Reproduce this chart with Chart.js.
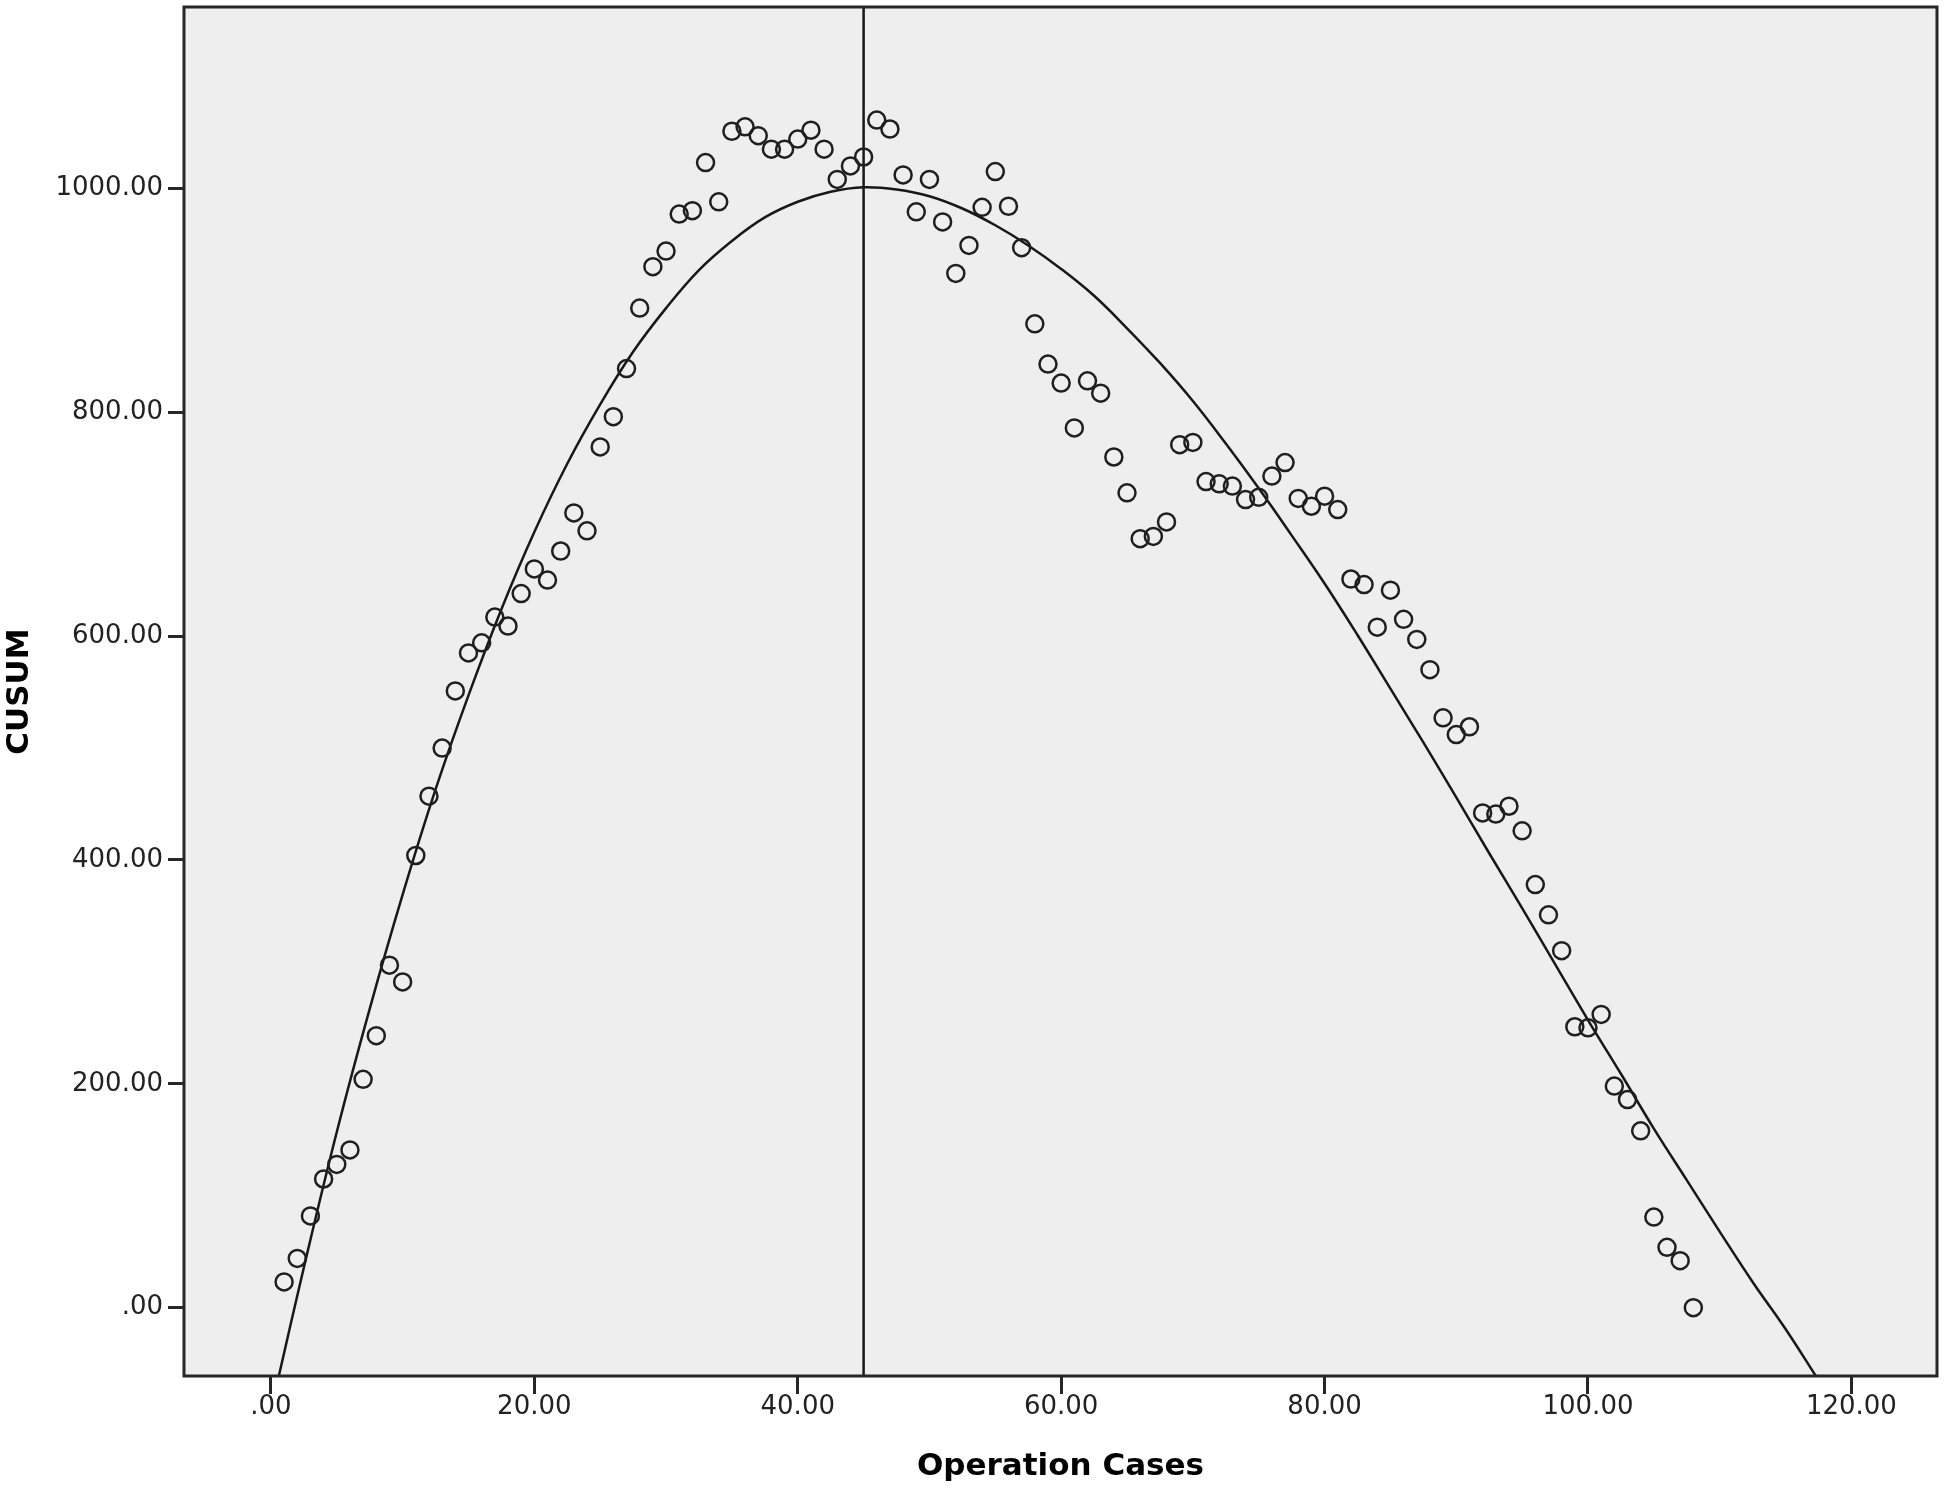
<!DOCTYPE html>
<html>
<head>
<meta charset="utf-8">
<title>CUSUM</title>
<script src="https://cdn.jsdelivr.net/npm/chart.js@4.4.1/dist/chart.umd.min.js"></script>
<style>
    html, body { margin: 0; padding: 0; background: #ffffff; }
    #wrap { width: 1944px; height: 1489px; }
</style>
</head>
<body>
<div id="wrap"><canvas id="cusumChart" width="1944" height="1489"></canvas></div>
<script>
// operation case number (x) and CUSUM value (y)
const caseNumbers = [
    1, 2, 3, 4, 5, 6, 7, 8, 9, 10, 11, 12, 13, 14, 15, 16, 17, 18, 19, 20,
    21, 22, 23, 24, 25, 26, 27, 28, 29, 30, 31, 32, 33, 34, 35, 36, 37, 38, 39, 40,
    41, 42, 43, 44, 45, 46, 47, 48, 49, 50, 51, 52, 53, 54, 55, 56, 57, 58, 59, 60,
    61, 62, 63, 64, 65, 66, 67, 68, 69, 70, 71, 72, 73, 74, 75, 76, 77, 78, 79, 80,
    81, 82, 83, 84, 85, 86, 87, 88, 89, 90, 91, 92, 93, 94, 95, 96, 97, 98, 99, 100,
    101, 102, 103, 104, 105, 106, 107, 108
];
const cusumValues = [
    23, 44, 82, 115, 128, 141, 204, 243, 306, 291, 404, 457, 500, 551, 585, 594, 617, 609, 638, 660,
    650, 676, 710, 694, 769, 796, 839, 893, 930, 944, 977, 980, 1023, 988, 1051, 1055, 1047, 1035, 1035, 1044,
    1052, 1035, 1008, 1020, 1028, 1061, 1053, 1012, 979, 1008, 970, 924, 949, 983, 1015, 984, 947, 879, 843, 826,
    786, 828, 817, 760, 728, 687, 689, 702, 771, 773, 738, 736, 734, 722, 724, 743, 755, 723, 716, 725,
    713, 651, 646, 608, 641, 615, 597, 570, 527, 512, 519, 442, 441, 448, 426, 378, 351, 319, 251, 250,
    262, 198, 186, 158, 81, 54, 42, 0
];

// fitted curve
const fitCases = [
    0.6, 2.5, 5, 7.5, 10, 12.5, 15, 17.5, 20, 22.5, 25, 27.5, 30, 32.5, 35, 37.5, 40, 42.5, 45, 47.5,
    50, 52.5, 55, 57.5, 60, 62.5, 65, 67.5, 70, 72.5, 75, 77.5, 80, 82.5, 85, 87.5, 90, 92.5, 95, 97.5,
    100, 102.5, 105, 107.5, 110, 112.5, 115, 117.3
];
const fitValues = [
    -61, 36, 157, 267, 369, 463, 547, 624, 693, 754, 807, 854, 893, 927, 953, 974, 988, 997, 1001, 999,
    993, 982, 967, 949, 928, 904, 875, 844, 810, 772, 732, 690, 647, 601, 553, 505, 456, 406, 357, 307,
    257, 209, 160, 114, 68, 23, -19, -61
];

// vertical reference line
const cutoffCase = 45;

const xTickValues = [0, 20, 40, 60, 80, 100, 120];
const yTickValues = [0, 200, 400, 600, 800, 1000];
const xRange = [-6.6, 126.5];
const yRange = [-61, 1162];

const fmt = (v) => v === 0 ? '.00' : v.toFixed(2);

// grey plot panel with a dark frame
const plotFrame = {
    id: 'plotFrame',
    beforeDatasetsDraw(chart) {
        const { ctx, chartArea: a } = chart;
        ctx.save();
        ctx.fillStyle = '#eeeeee';
        ctx.fillRect(a.left, a.top, a.right - a.left, a.bottom - a.top);
        ctx.restore();
    },
    afterDraw(chart) {
        const { ctx, chartArea: a } = chart;
        ctx.save();
        ctx.strokeStyle = '#262626';
        ctx.lineWidth = 3;
        ctx.strokeRect(a.left, a.top, a.right - a.left, a.bottom - a.top);
        ctx.restore();
    }
};

const tickFont = { family: 'DejaVu Sans', size: 26 };
const titleFont = { family: 'DejaVu Sans', size: 31, weight: 'bold' };

const ctx = document.getElementById('cusumChart').getContext('2d');
const cusumChart = new Chart(ctx, {
    type: 'scatter',
    data: {
        datasets: [
            {
                label: 'CUSUM',
                data: caseNumbers.map((c, i) => ({ x: c, y: cusumValues[i] })),
                pointStyle: 'circle',
                pointRadius: 8.5,
                pointBorderWidth: 2.5,
                pointBorderColor: '#1f1f1f',
                pointBackgroundColor: 'rgba(0,0,0,0)',
                order: 1
            },
            {
                type: 'line',
                label: 'Fit',
                data: fitCases.map((c, i) => ({ x: c, y: fitValues[i] })),
                borderColor: '#181818',
                borderWidth: 2.5,
                pointRadius: 0,
                tension: 0.4,
                cubicInterpolationMode: 'default',
                fill: false,
                order: 2
            },
            {
                type: 'line',
                label: 'Cutoff',
                data: [{ x: cutoffCase, y: yRange[0] }, { x: cutoffCase, y: yRange[1] }],
                borderColor: '#181818',
                borderWidth: 2.5,
                pointRadius: 0,
                tension: 0,
                fill: false,
                order: 3
            }
        ]
    },
    options: {
        responsive: false,
        animation: false,
        devicePixelRatio: 1,
        events: [],
        layout: { autoPadding: false, padding: { top: 7, right: 7, left: 0, bottom: 0 } },
        plugins: {
            legend: { display: false },
            tooltip: { enabled: false }
        },
        scales: {
            x: {
                type: 'linear',
                min: xRange[0],
                max: xRange[1],
                afterBuildTicks: (scale) => { scale.ticks = xTickValues.map(v => ({ value: v })); },
                afterFit: (scale) => {
                    scale.height = 113;
                    scale.paddingLeft = 0;
                    scale.paddingRight = 0;
                },
                grid: { drawOnChartArea: false, drawTicks: true, tickLength: 18, tickWidth: 3, tickColor: '#262626' },
                border: { display: false },
                ticks: { font: tickFont, color: '#222', padding: -2, maxRotation: 0, callback: fmt },
                title: { display: true, text: 'Operation Cases', font: titleFont, color: '#000', padding: { top: 0, bottom: 3 } }
            },
            y: {
                type: 'linear',
                min: yRange[0],
                max: yRange[1],
                afterBuildTicks: (scale) => { scale.ticks = yTickValues.map(v => ({ value: v })); },
                afterFit: (scale) => {
                    scale.width = 184;
                    scale.paddingTop = 0;
                    scale.paddingBottom = 0;
                },
                grid: { drawOnChartArea: false, drawTicks: true, tickLength: 16, tickWidth: 3, tickColor: '#262626' },
                border: { display: false },
                ticks: { font: tickFont, color: '#222', padding: 5, callback: fmt },
                title: { display: true, text: 'CUSUM', font: titleFont, color: '#000', padding: { top: 1, bottom: 0 } }
            }
        }
    },
    plugins: [plotFrame]
});
</script>
</body>
</html>
